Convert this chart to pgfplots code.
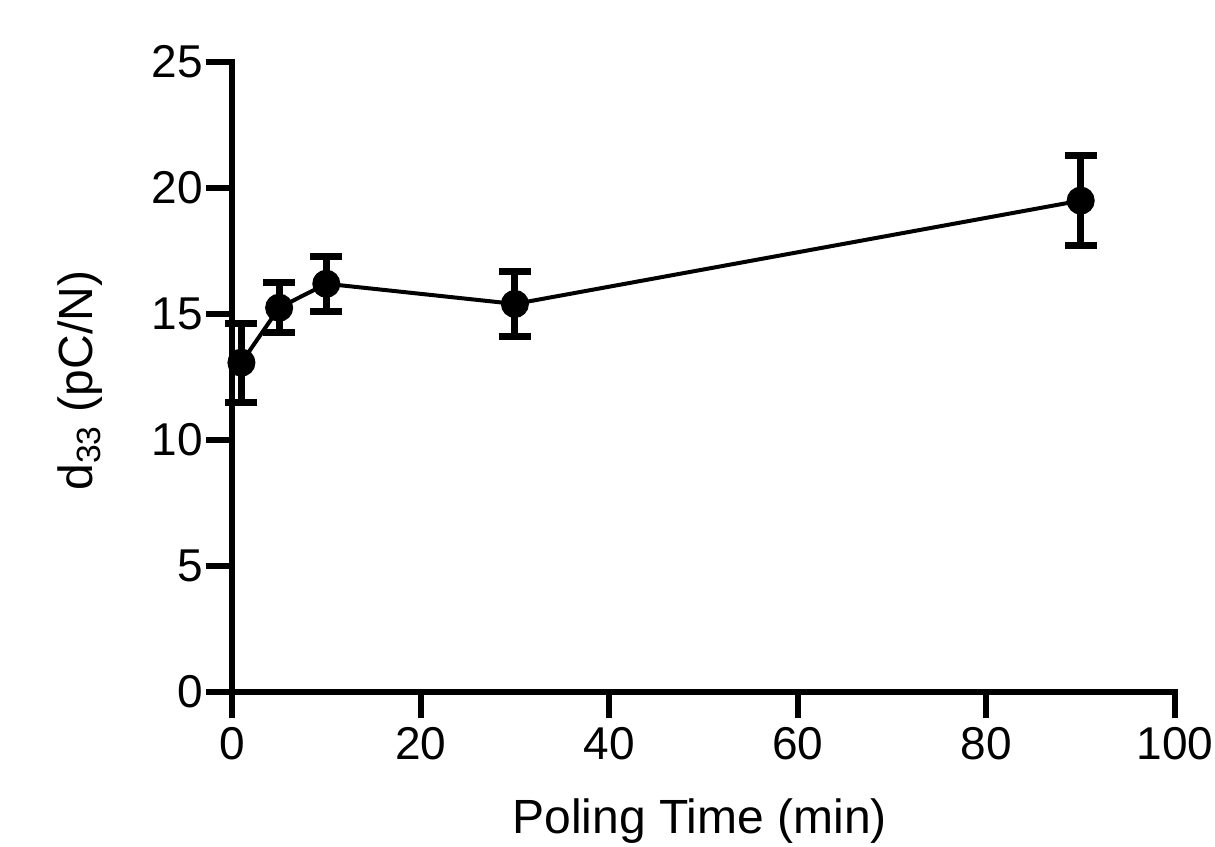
\documentclass[border=0pt]{standalone}
\usepackage{fontspec}
\setmainfont{Liberation Sans}
\usepackage{pgfplots}
\pgfplotsset{compat=1.18}
\begin{document}
\begin{tikzpicture}
\begin{axis}[
  at={(0,0)}, anchor=south west,
  scale only axis,
  width=471.5pt, height=315pt,
  xmin=0, xmax=100, ymin=0, ymax=25,
  axis x line=bottom, axis y line=left,
  axis line style={-, line width=3pt, line cap=rect},
  xtick={0,20,40,60,80,100},
  ytick={0,5,10,15,20,25},
  tick align=outside,
  major tick length=13pt,
  tick style={line width=3pt, black},
  /pgf/number format/assume math mode=true,
  tick label style={font=\fontsize{23}{25}\selectfont},
  xticklabel style={yshift=-1pt},
  yticklabel style={xshift=2pt},
  label style={font=\fontsize{24}{26}\selectfont},
  xlabel={Poling Time (min)},
  ylabel={d\textsubscript{33} (pC/N)},
  xlabel style={at={(axis description cs:0.496,-0.205)}, anchor=center},
  ylabel style={at={(axis description cs:-0.161,0.494)}, anchor=center, rotate=0},
  clip=false,
]
\addplot[black, line width=2pt, mark=*, mark size=6pt,
  error bars/.cd, y dir=both, y explicit,
  error bar style={line width=3.5pt},
  error mark options={line width=3.5pt, mark size=8pt, rotate=90}]
  table[x=x, y=y, y error=e] {
x y e
1 13.07 1.57
5 15.25 1.0
10 16.2 1.1
30 15.4 1.3
90 19.5 1.8
};
\end{axis}
\pgfresetboundingbox
\useasboundingbox (-116pt,-77pt) rectangle (491.5pt,346pt);
\end{tikzpicture}
\end{document}
